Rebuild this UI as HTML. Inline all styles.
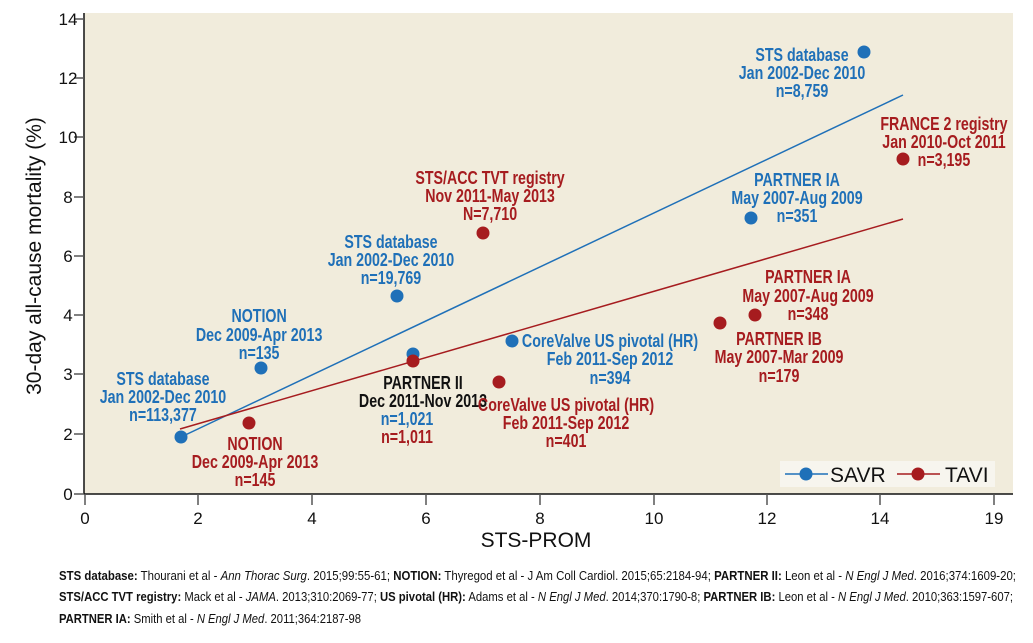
<!DOCTYPE html>
<html><head><meta charset="utf-8"><style>
body{margin:0;background:#fff;}
svg text{font-family:"Liberation Sans Narrow","Liberation Sans",sans-serif;}
.b{fill:#1f70b8;font-weight:bold;font-size:18px;text-anchor:middle}
.r{fill:#a61c1f;font-weight:bold;font-size:18px;text-anchor:middle}
.k{fill:#111;font-weight:bold;font-size:18px;text-anchor:middle}
.t{font-size:17px;fill:#111;text-anchor:middle}
.f{font-size:13px;fill:#111}
</style></head><body>
<svg width="1033" height="638" viewBox="0 0 1033 638" xmlns="http://www.w3.org/2000/svg">
<rect x="84" y="13" width="929" height="481" fill="#f1ecdc"/>
<line x1="84" y1="13" x2="84" y2="494" stroke="#111" stroke-width="1.5"/>
<line x1="84" y1="494" x2="1013" y2="494" stroke="#111" stroke-width="1.5"/>
<g stroke="#555" stroke-width="1.5">
<line x1="74" y1="19" x2="84" y2="19"/><line x1="74" y1="78" x2="84" y2="78"/><line x1="74" y1="137" x2="84" y2="137"/><line x1="74" y1="197" x2="84" y2="197"/><line x1="74" y1="256" x2="84" y2="256"/><line x1="74" y1="315" x2="84" y2="315"/><line x1="74" y1="374" x2="84" y2="374"/><line x1="74" y1="434" x2="84" y2="434"/><line x1="74" y1="494" x2="84" y2="494"/>
<line x1="85" y1="494" x2="85" y2="505"/><line x1="198" y1="494" x2="198" y2="505"/><line x1="312" y1="494" x2="312" y2="505"/><line x1="426" y1="494" x2="426" y2="505"/><line x1="540" y1="494" x2="540" y2="505"/><line x1="654" y1="494" x2="654" y2="505"/><line x1="767" y1="494" x2="767" y2="505"/><line x1="880" y1="494" x2="880" y2="505"/><line x1="994" y1="494" x2="994" y2="505"/>
</g>
<g>
<text x="68" y="25" class="t" text-anchor="end">14</text><text x="68" y="84" class="t" text-anchor="end">12</text><text x="68" y="143" class="t" text-anchor="end">10</text><text x="68" y="203" class="t" text-anchor="end">8</text><text x="68" y="262" class="t" text-anchor="end">6</text><text x="68" y="321" class="t" text-anchor="end">4</text><text x="68" y="380" class="t" text-anchor="end">3</text><text x="68" y="440" class="t" text-anchor="end">2</text><text x="68" y="500" class="t" text-anchor="end">0</text>
</g>
<g>
<text x="85" y="524" class="t">0</text><text x="198" y="524" class="t">2</text><text x="312" y="524" class="t">4</text><text x="426" y="524" class="t">6</text><text x="540" y="524" class="t">8</text><text x="654" y="524" class="t">10</text><text x="767" y="524" class="t">12</text><text x="880" y="524" class="t">14</text><text x="994" y="524" class="t">19</text>
</g>
<text x="536" y="547" style="font-size:21px;fill:#111;text-anchor:middle">STS-PROM</text>
<text transform="translate(41,256) rotate(-90)" style="font-size:21px;fill:#111;text-anchor:middle">30-day all-cause mortality (%)</text>

<line x1="181" y1="437" x2="903" y2="95" stroke="#1f70b8" stroke-width="1.5"/>
<line x1="180" y1="429" x2="903" y2="219" stroke="#a61c1f" stroke-width="1.5"/>

<g fill="#1f70b8">
<circle cx="181" cy="437" r="6.5"/><circle cx="261" cy="368" r="6.5"/><circle cx="397" cy="296" r="6.5"/><circle cx="413" cy="354" r="6.5"/><circle cx="512" cy="341" r="6.5"/><circle cx="751" cy="218" r="6.5"/><circle cx="864" cy="52" r="6.5"/>
</g>
<g fill="#a61c1f">
<circle cx="249" cy="423" r="6.5"/><circle cx="413" cy="361" r="6.5"/><circle cx="483" cy="233" r="6.5"/><circle cx="499" cy="382" r="6.5"/><circle cx="720" cy="323" r="6.5"/><circle cx="755" cy="315" r="6.5"/><circle cx="903" cy="159" r="6.5"/>
</g>

<g transform="scale(0.79,1)">
<text class="b" x="206.3" y="385">STS database</text><text class="b" x="206.3" y="403">Jan 2002-Dec 2010</text><text class="b" x="206.3" y="421">n=113,377</text>
<text class="b" x="328" y="322">NOTION</text><text class="b" x="328" y="341">Dec 2009-Apr 2013</text><text class="b" x="328" y="359">n=135</text>
<text class="b" x="494.9" y="248">STS database</text><text class="b" x="494.9" y="266">Jan 2002-Dec 2010</text><text class="b" x="494.9" y="284">n=19,769</text>
<text class="r" x="620.3" y="184">STS/ACC TVT registry</text><text class="r" x="620.3" y="202">Nov 2011-May 2013</text><text class="r" x="620.3" y="220">N=7,710</text>
<text class="b" x="1015.2" y="61">STS database</text><text class="b" x="1015.2" y="79">Jan 2002-Dec 2010</text><text class="b" x="1015.2" y="97">n=8,759</text>
<text class="r" x="1194.9" y="130">FRANCE 2 registry</text><text class="r" x="1194.9" y="148">Jan 2010-Oct 2011</text><text class="r" x="1194.9" y="166">n=3,195</text>
<text class="b" x="1008.9" y="186">PARTNER IA</text><text class="b" x="1008.9" y="204">May 2007-Aug 2009</text><text class="b" x="1008.9" y="222">n=351</text>
<text class="r" x="1022.8" y="283">PARTNER IA</text><text class="r" x="1022.8" y="302">May 2007-Aug 2009</text><text class="r" x="1022.8" y="320">n=348</text>
<text class="r" x="986.1" y="345">PARTNER IB</text><text class="r" x="986.1" y="363">May 2007-Mar 2009</text><text class="r" x="986.1" y="382">n=179</text>
<text class="b" x="772.2" y="347">CoreValve US pivotal (HR)</text><text class="b" x="772.2" y="365">Feb 2011-Sep 2012</text><text class="b" x="772.2" y="384">n=394</text>
<text class="k" x="535.4" y="389">PARTNER II</text><text class="k" x="535.4" y="407">Dec 2011-Nov 2013</text><text class="b" x="515.2" y="425">n=1,021</text><text class="r" x="515.2" y="443">n=1,011</text>
<text class="r" x="716.5" y="411">CoreValve US pivotal (HR)</text><text class="r" x="716.5" y="429">Feb 2011-Sep 2012</text><text class="r" x="716.5" y="447">n=401</text>
<text class="r" x="322.8" y="450">NOTION</text><text class="r" x="322.8" y="468">Dec 2009-Apr 2013</text><text class="r" x="322.8" y="486">n=145</text>
</g>

<rect x="780" y="461" width="215" height="26" fill="#f7f5ee"/>
<line x1="785" y1="474" x2="828" y2="474" stroke="#1f70b8" stroke-width="1.5"/><circle cx="806" cy="474" r="6.5" fill="#1f70b8"/>
<text x="830" y="482" style="font-size:21px;fill:#111">SAVR</text>
<line x1="897" y1="474" x2="940" y2="474" stroke="#a61c1f" stroke-width="1.5"/><circle cx="918" cy="474" r="6.5" fill="#a61c1f"/>
<text x="945" y="482" style="font-size:21px;fill:#111">TAVI</text>

<text class="f" x="59" y="580" textLength="957" lengthAdjust="spacingAndGlyphs"><tspan font-weight="bold">STS database:</tspan> Thourani et al - <tspan font-style="italic">Ann Thorac Surg</tspan>. 2015;99:55-61; <tspan font-weight="bold">NOTION:</tspan> Thyregod et al - J Am Coll Cardiol. 2015;65:2184-94; <tspan font-weight="bold">PARTNER II:</tspan> Leon et al - <tspan font-style="italic">N Engl J Med</tspan>. 2016;374:1609-20;</text>
<text class="f" x="59" y="601" textLength="954" lengthAdjust="spacingAndGlyphs"><tspan font-weight="bold">STS/ACC TVT registry:</tspan> Mack et al - <tspan font-style="italic">JAMA</tspan>. 2013;310:2069-77; <tspan font-weight="bold">US pivotal (HR):</tspan> Adams et al - <tspan font-style="italic">N Engl J Med</tspan>. 2014;370:1790-8; <tspan font-weight="bold">PARTNER IB:</tspan> Leon et al - <tspan font-style="italic">N Engl J Med</tspan>. 2010;363:1597-607;</text>
<text class="f" x="59" y="623" textLength="302" lengthAdjust="spacingAndGlyphs"><tspan font-weight="bold">PARTNER IA:</tspan> Smith et al - <tspan font-style="italic">N Engl J Med</tspan>. 2011;364:2187-98</text>
</svg>
</body></html>
